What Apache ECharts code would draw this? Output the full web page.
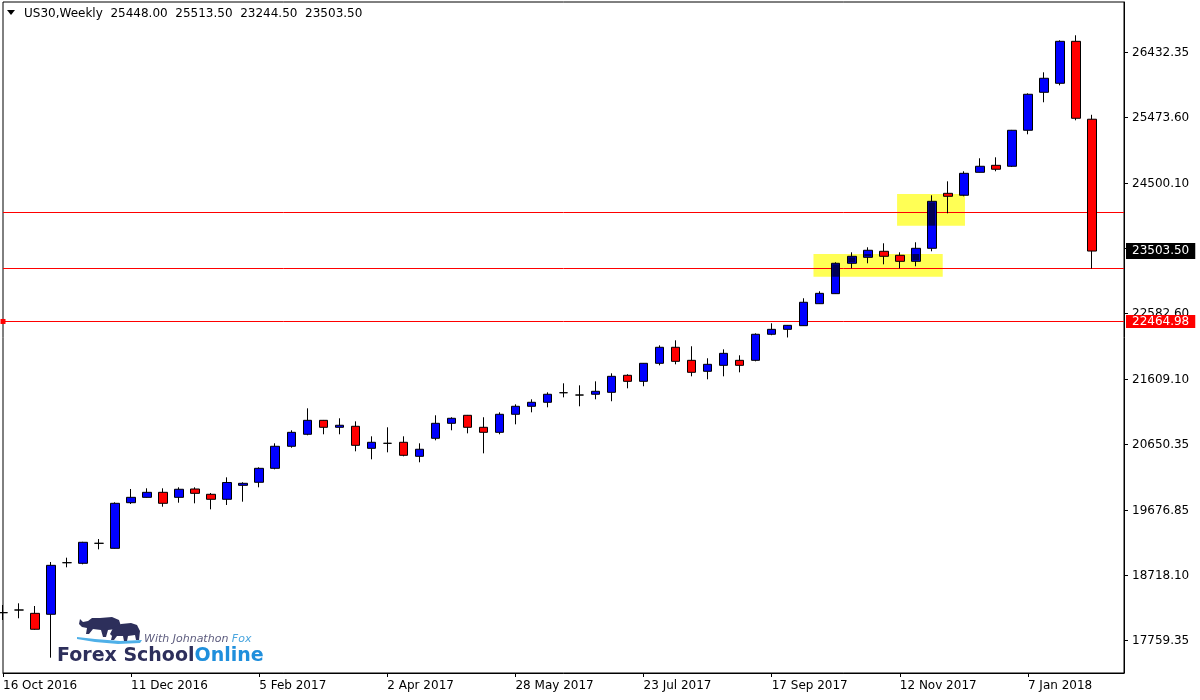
<!DOCTYPE html>
<html>
<head>
<meta charset="utf-8">
<script src="https://cdn.jsdelivr.net/npm/echarts@6/dist/echarts.min.js"></script>
<style>
html,body{margin:0;padding:0;background:#fff;}
#c{width:1200px;height:700px;}
</style>
</head>
<body>
<div id="c"></div>
<script>
// ---- data ----
const symbolName = 'US30,Weekly';
const categories = [
 '16 Oct 2016','23 Oct 2016','30 Oct 2016','6 Nov 2016','13 Nov 2016','20 Nov 2016','27 Nov 2016','4 Dec 2016',
 '11 Dec 2016','18 Dec 2016','25 Dec 2016','1 Jan 2017','8 Jan 2017','15 Jan 2017','22 Jan 2017','29 Jan 2017',
 '5 Feb 2017','12 Feb 2017','19 Feb 2017','26 Feb 2017','5 Mar 2017','12 Mar 2017','19 Mar 2017','26 Mar 2017',
 '2 Apr 2017','9 Apr 2017','16 Apr 2017','23 Apr 2017','30 Apr 2017','7 May 2017','14 May 2017','21 May 2017',
 '28 May 2017','4 Jun 2017','11 Jun 2017','18 Jun 2017','25 Jun 2017','2 Jul 2017','9 Jul 2017','16 Jul 2017',
 '23 Jul 2017','30 Jul 2017','6 Aug 2017','13 Aug 2017','20 Aug 2017','27 Aug 2017','3 Sep 2017','10 Sep 2017',
 '17 Sep 2017','24 Sep 2017','1 Oct 2017','8 Oct 2017','15 Oct 2017','22 Oct 2017','29 Oct 2017','5 Nov 2017',
 '12 Nov 2017','19 Nov 2017','26 Nov 2017','3 Dec 2017','10 Dec 2017','17 Dec 2017','24 Dec 2017','31 Dec 2017',
 '7 Jan 2018','14 Jan 2018','21 Jan 2018','28 Jan 2018','4 Feb 2018','11 Feb 2018','18 Feb 2018'
];
// [open, high, low, close]
const candles = [
 [18170,18283,18062,18170],[18209,18308,18087,18209],[18160,18268,17918,17925],[18146,18917,17506,18868],
 [18907,18981,18839,18907],[18898,19215,18883,19208],[19193,19256,19104,19193],[19119,19798,19115,19783],
 [19792,19994,19773,19871],[19871,20004,19865,19945],[19945,20004,19733,19783],[19871,20019,19792,19990],
 [19994,20019,19783,19930],[19916,19935,19694,19842],[19842,20166,19758,20090],[20048,20093,19807,20078],
 [20093,20314,20019,20299],[20299,20668,20284,20624],[20624,20860,20603,20830],[20801,21184,20786,21007],
 [21007,21012,20801,20904],[20904,21037,20801,20934],[20919,20992,20550,20638],[20594,20771,20432,20683],
 [20668,20904,20535,20668],[20683,20771,20476,20491],[20476,20668,20388,20580],[20742,21081,20712,20963],
 [20963,21052,20860,21037],[21081,21086,20815,20904],[20904,21052,20520,20830],[20830,21125,20801,21096],
 [21096,21243,20948,21214],[21214,21317,21125,21273],[21273,21420,21199,21391],[21414,21553,21346,21414],
 [21380,21523,21214,21380],[21391,21582,21317,21435],[21420,21700,21288,21656],[21671,21686,21479,21582],
 [21582,21852,21509,21848],[21848,22113,21818,22084],[22084,22187,21833,21877],[21892,22099,21656,21715],
 [21730,21922,21612,21833],[21818,22054,21656,21995],[21892,21966,21715,21818],[21892,22290,21877,22276],
 [22276,22438,22262,22349],[22349,22413,22229,22408],[22403,22807,22398,22748],[22727,22910,22723,22880],
 [22875,23338,22870,23323],[23323,23485,23249,23426],[23411,23559,23323,23515],[23500,23618,23308,23426],
 [23441,23485,23249,23352],[23352,23633,23279,23544],[23544,24326,23500,24237],[24355,24532,24060,24311],
 [24326,24680,24311,24650],[24665,24872,24662,24754],[24768,24886,24680,24710],[24754,25290,24743,25285],
 [25285,25830,25226,25816],[25845,26140,25698,26052],[25978,26612,25948,26597],[26597,26686,25432,25462],
 [25448.00,25513.50,23244.50,23503.50]
];
const yTickLabels = [26432.35, 25473.60, 24500.10, 22582.60, 21609.10, 20650.35, 19676.85, 18718.10, 17759.35];
const yTickMarks = [26432.35, 25473.60, 24500.10, 23541.35, 22582.60, 21609.10, 20650.35, 19676.85, 18718.10, 17759.35];
const levelLines = [24075, 23249];
const selectedLine = 22464.98;
// zones: [startIndex, endIndex, topPrice, bottomPrice]
const zones = [
 [50.61, 58.68, 23460, 23125],
 [55.83, 60.07, 24345, 23878]
];
const yMin = 17280, yMax = 27177;

// ---- chart ----
const BAR_W = 9;
const last = candles[candles.length - 1];
const headerText = symbolName + '  ' + last.map(v => v.toFixed(2)).join('  ');
const FONT = 'DejaVu Sans';

const chart = echarts.init(document.getElementById('c'), null, {renderer: 'canvas'});

function fracX(api, v) {
  const i0 = Math.floor(v);
  const p0 = api.coord([i0, yMin])[0];
  const p1 = api.coord([i0 + 1, yMin])[0];
  return p0 + (v - i0) * (p1 - p0);
}
function zoneBox(api, z) {
  const x0 = fracX(api, z[0]), x1 = fracX(api, z[1]);
  const yT = api.coord([0, z[2]])[1], yB = api.coord([0, z[3]])[1];
  return {x0, x1, yT, yB};
}

const option = {
  backgroundColor: '#ffffff',
  animation: false,
  title: {
    text: headerText,
    left: 24, top: 8, padding: 0,
    textStyle: {fontFamily: FONT, fontSize: 12, fontWeight: 'normal', color: '#000'}
  },
  grid: {left: 2, right: 76, top: 2, bottom: 27, show: true, borderColor: '#000', borderWidth: 1, backgroundColor: 'transparent'},
  xAxis: {
    type: 'category',
    data: categories,
    boundaryGap: false,
    axisLine: {show: true, lineStyle: {color: '#000', width: 1}},
    axisTick: {show: true, interval: 7, length: 4, lineStyle: {color: '#000'}},
    axisLabel: {show: true, interval: 7, align: 'left', margin: 7, color: '#000', fontFamily: FONT, fontSize: 12},
    splitLine: {show: false}
  },
  yAxis: {
    type: 'value',
    position: 'right',
    min: yMin, max: yMax,
    scale: true,
    axisLine: {show: true, lineStyle: {color: '#000', width: 1}},
    axisTick: {show: true, length: 4, inside: false, customValues: yTickMarks, lineStyle: {color: '#000'}},
    axisLabel: {show: true, margin: 8, color: '#000', fontFamily: FONT, fontSize: 12,
      customValues: yTickLabels, formatter: v => Number(v).toFixed(2)},
    splitLine: {show: false}
  },
  series: [
    {
      // yellow highlight zones, behind everything
      type: 'custom',
      silent: true,
      z: 1,
      data: zones.map((z, i) => [i]),
      encode: {x: 0},
      renderItem: function (params, api) {
        const b = zoneBox(api, zones[params.dataIndex]);
        return {type: 'rect', shape: {x: b.x0, y: b.yT, width: b.x1 - b.x0, height: b.yB - b.yT},
          style: {fill: '#ffff55'}};
      }
    },
    {
      type: 'candlestick',
      z: 2,
      data: candles.map(r => [r[0], r[3], r[2], r[1]]),
      barWidth: BAR_W,
      clip: true,
      itemStyle: {
        color: '#0000ff', color0: '#ff0000',
        borderColor: '#000000', borderColor0: '#000000', borderColorDoji: '#000000',
        borderWidth: 1
      },
      emphasis: {disabled: true},
      markLine: {
        silent: true,
        animation: false,
        z: 1.5,
        symbol: ['none', 'none'],
        precision: 2,
        data: [
          {yAxis: levelLines[0], lineStyle: {color: '#ff0000', width: 1, type: 'solid'}, label: {show: false}},
          {yAxis: levelLines[1], lineStyle: {color: '#ff0000', width: 1, type: 'solid'}, label: {show: false}},
          {yAxis: selectedLine, symbol: ['emptyRect', 'emptyRect'], symbolSize: 5,
            lineStyle: {color: '#ff0000', width: 1, type: 'solid'},
            label: {show: true, position: 'end', distance: 2, formatter: selectedLine.toFixed(2),
              backgroundColor: '#ff0000', color: '#ffffff', fontFamily: FONT, fontSize: 12,
              lineHeight: 13, padding: [0, 6, 0, 6]}},
          {yAxis: last[3], lineStyle: {color: 'rgba(0,0,0,0)', width: 1},
            label: {show: true, position: 'end', distance: 2, formatter: last[3].toFixed(2),
              backgroundColor: '#000000', color: '#ffffff', fontFamily: FONT, fontSize: 12,
              lineHeight: 14, padding: [1, 6, 1, 6]}}
        ]
      }
    },
    {
      // where a bullish body lies inside a highlight zone, its fill shows darkened (MT4 style)
      type: 'custom',
      silent: true,
      z: 3,
      data: zones.map((z, i) => [i]),
      encode: {x: 0},
      renderItem: function (params, api) {
        const z = zones[params.dataIndex];
        const b = zoneBox(api, z);
        const children = [];
        for (let i = Math.max(0, Math.floor(z[0]) - 1); i <= Math.min(candles.length - 1, Math.ceil(z[1]) + 1); i++) {
          const c = candles[i];
          if (!(c[3] > c[0])) continue;
          const cx = api.coord([i, yMin])[0];
          const top = api.coord([i, c[3]])[1] + 1;
          const bot = api.coord([i, c[0]])[1] - 1;
          const l = Math.max(cx - BAR_W / 2 + 1, b.x0), r = Math.min(cx + BAR_W / 2 - 1, b.x1);
          const t = Math.max(top, b.yT), bt = Math.min(bot, b.yB);
          if (r > l && bt > t) {
            children.push({type: 'rect', shape: {x: l, y: t, width: r - l, height: bt - t}, style: {fill: '#000055'}});
          }
        }
        return {type: 'group', children: children};
      }
    }
  ],
  graphic: [
    {type: 'polygon', shape: {points: [[7, 10], [15, 10], [11, 15]]}, style: {fill: '#000'}},
    // watermark logo
    {type: 'polygon', shape: {points: [[77,637],[95,639],[120,641],[142,640],[140,643],[118,644],[95,642],[77,639]]},
      style: {fill: '#4fb0e8'}},
    {type: 'polygon', shape: {points: [[79,624],[80,619],[83,622],[88,621],[92,618],[100,618],[112,617],[119,620],[121,626],[119,636],[116,636],[116,629],[108,630],[106,637],[103,637],[101,630],[93,629],[89,634],[86,634],[87,628],[82,627]]},
      style: {fill: '#2d2f5b'}},
    {type: 'polygon', shape: {points: [[110,634],[113,628],[121,624],[131,623],[137,625],[140,631],[139,640],[136,640],[135,635],[128,636],[127,641],[124,641],[123,636],[117,636],[114,640],[111,640],[112,636]]},
      style: {fill: '#2d2f5b'}},
    {type: 'text', x: 144, y: 639,
      style: {text: '{a|With Johnathon }{b|Fox}', verticalAlign: 'middle',
        rich: {a: {fontFamily: FONT, fontStyle: 'italic', fontSize: 11, fill: '#5d5c7e', color: '#5d5c7e'},
               b: {fontFamily: FONT, fontStyle: 'italic', fontSize: 11, fill: '#4aa6df', color: '#4aa6df'}}}},
    {type: 'text', x: 57, y: 656,
      style: {text: '{a|Forex School}{b|Online}', verticalAlign: 'middle',
        rich: {a: {fontFamily: FONT, fontWeight: 'bold', fontSize: 19, fill: '#2d2f5b', color: '#2d2f5b'},
               b: {fontFamily: FONT, fontWeight: 'bold', fontSize: 19, fill: '#1f8fdc', color: '#1f8fdc'}}}}
  ]
};
chart.setOption(option);
</script>
</body>
</html>
